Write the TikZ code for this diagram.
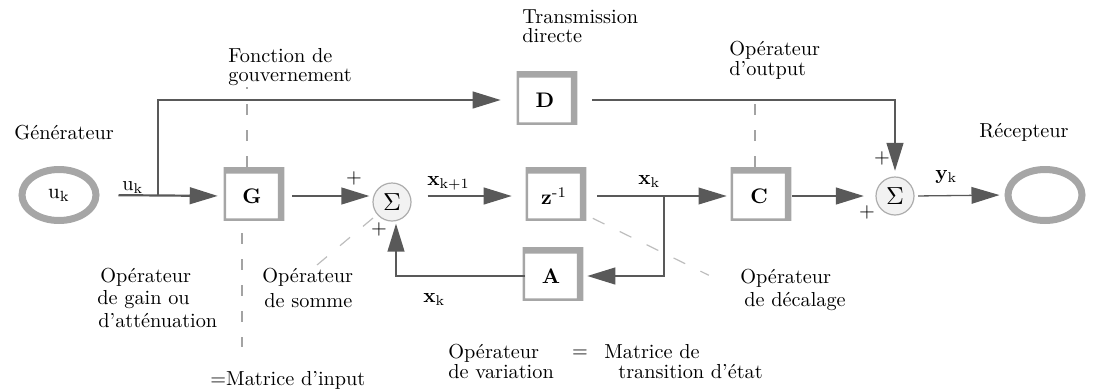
\documentclass[tikz,border=0pt]{standalone}
\usepackage{graphicx}
\usetikzlibrary{arrows.meta,shapes.geometric}
\newlength{\pxu}\setlength{\pxu}{0.75pt}
\newcommand{\enl}[1]{\scalebox{1.58}{#1}}
\definecolor{wiregray}{HTML}{595959}
\definecolor{framegray}{HTML}{A6A6A6}
\definecolor{sumfill}{HTML}{F2F2F2}
\definecolor{sumline}{HTML}{ADADAD}
\definecolor{guidegray}{HTML}{A3A3A3}
\definecolor{guidelight}{HTML}{BDBDBD}
\begin{document}
\begin{tikzpicture}[x=0.75pt,y=-0.75pt,
  lbl/.style={anchor=base west, inner sep=0, scale=1.52, transform shape},
  block/.style={rectangle, fill=white, inner sep=0, minimum width=51\pxu,
    minimum height=44\pxu, font=\bfseries},
  sumnode/.style={circle, draw=sumline, fill=sumfill, line width=1.2\pxu,
    minimum size=38\pxu, inner sep=0},
  terminal/.style={ellipse, draw=framegray, line width=7\pxu, minimum width=74\pxu,
    minimum height=51\pxu, inner sep=0},
  wireflow/.style={draw=wiregray, line width=2.2\pxu, -{Triangle[length=21pt,width=12.5pt]}},
  thinflow/.style={wireflow, line width=1.3\pxu},
  guide/.style={draw=guidegray, line width=1.3\pxu, dash pattern=on 11\pxu off 15\pxu},
  guidediag/.style={draw=guidelight, line width=1.2\pxu, dash pattern=on 13\pxu off 17\pxu},
]
\useasboundingbox (0,0) rectangle (1093,390);

% source, sink and operator blocks
\node[terminal] (gen) at (59,195) {\enl{u$_{\mathrm{k}}$}};
\node[terminal] (rec) at (1045,195) {};
\node[block] (G) at (252,196) {\enl{G}};
\node[block] (D) at (545,100) {\enl{D}};
\node[block] (Z) at (554,196) {\enl{z\textsuperscript{\mdseries -1}}};
\node[block] (C) at (759,196) {\enl{C}};
\node[block] (A) at (551,276) {\enl{A}};
\node[sumnode] (s1) at (392,202) {\scalebox{1.85}{$\Sigma$}};
\node[sumnode] (s2) at (895,196) {\scalebox{1.85}{$\Sigma$}};

% raised frames round the blocks
\foreach \b in {G,D,Z,C,A}{
  \fill[framegray, even odd rule]
    ([shift={(-2.5\pxu,-2.5\pxu)}]\b.south west) rectangle ([shift={(6.5\pxu,6.5\pxu)}]\b.north east)
    (\b.south west) rectangle (\b.north east);
}

% branch points
\coordinate (split) at (158,196);
\coordinate (tap) at (664,196);

% signal flow
\draw[wireflow, shorten <=19\pxu, shorten >=8.5\pxu] (gen.east) -- (G.west);
\draw[wireflow, shorten >=18.5\pxu] (split) |- (D.west);
\draw[wireflow, shorten <=14.5\pxu, shorten >=3\pxu] (G.east) -- (G.east -| s1.west);
\draw[wireflow, shorten <=16\pxu, shorten >=16.5\pxu] (s1.east |- Z.west) -- (Z.west);
\draw[thinflow, shorten <=17.5\pxu, shorten >=6.5\pxu] (Z.east) -- (C.west);
\draw[wireflow, shorten >=10.5\pxu] (tap) |- (A.east);
\draw[wireflow, shorten >=2\pxu] (A.west) -| ([xshift=4\pxu]s1.south);
\draw[wireflow, shorten <=21.5\pxu, shorten >=5.5\pxu] (D.east) -| (s2.north);
\draw[wireflow, shorten <=7.5\pxu, shorten >=11.5\pxu] (C.east) -- (s2.west);
\draw[thinflow, shorten <=3.5\pxu, shorten >=5\pxu] (s2.east) -- (rec.west);

% leader lines to the captions
\draw[guide] ([shift={(-5\pxu,6.5\pxu)}]G.north) -- ++(0,-80);
\draw[guide] ([shift={(-10\pxu,-15\pxu)}]G.south) -- ++(0,114);
\draw[guide] ([shift={(-4\pxu,6.5\pxu)}]C.north) -- ++(0,-74);
\draw[guidediag] ([shift={(-19\pxu,-16\pxu)}]s1.center) -- ++(-56,47);
\draw[guidediag] ([xshift=13\pxu]Z.south east) -- ++(116,57);

% signal names
\node[lbl] (uk) at (122,190) {u$_{\mathrm{k}}$};
\node[lbl] (xk1) at (427,185) {\textbf{x}$_{\mathrm{k}+1}$};
\node[lbl] (xk) at (638,184) {\textbf{x}$_{\mathrm{k}}$};
\node[lbl] (xkfb) at (423,302) {\textbf{x}$_{\mathrm{k}}$};
\node[lbl] (yk) at (935,179) {\textbf{y}$_{\mathrm{k}}$};

% signs at the summing junctions
\node[lbl, anchor=center] (p1) at (354,178) {+};
\node[lbl, anchor=center] (p2) at (379,229) {+};
\node[lbl, anchor=center] (p3) at (882,158) {+};
\node[lbl, anchor=center] (p4) at (867,212) {+};

% captions
\node[lbl] (gent) at (14,139) {Générateur};
\node[lbl] (rect) at (979,137) {Récepteur};
\node[lbl] (fonc1) at (228,62) {Fonction de};
\node[lbl] (fonc2) at (228,81) {gouvernement};
\node[lbl] (tr1) at (522,23) {Transmission};
\node[lbl] (tr2) at (522,42) {directe};
\node[lbl] (out1) at (729,55) {Opérateur};
\node[lbl] (out2) at (729,75) {d’output};
\node[lbl] (dec1) at (740,283) {Opérateur};
\node[lbl] (dec2) at (744,306) {de décalage};
\node[lbl] (gain1) at (100,282) {Opérateur};
\node[lbl] (gain2) at (97,304) {de gain ou};
\node[lbl] (gain3) at (98,327) {d’atténuation};
\node[lbl] (som1) at (262,282) {Opérateur};
\node[lbl] (som2) at (264,307) {de somme};
\node[lbl] (inp) at (210,385) {=Matrice d’input};
\node[lbl] (var1) at (448,358) {Opérateur};
\node[lbl] (var2) at (448,378) {de variation};
\node[lbl, anchor=center] (eq) at (580,354) {=};
\node[lbl] (mat1) at (604,358) {Matrice de};
\node[lbl] (mat2) at (618,378) {transition d’état};
\end{tikzpicture}
\end{document}
